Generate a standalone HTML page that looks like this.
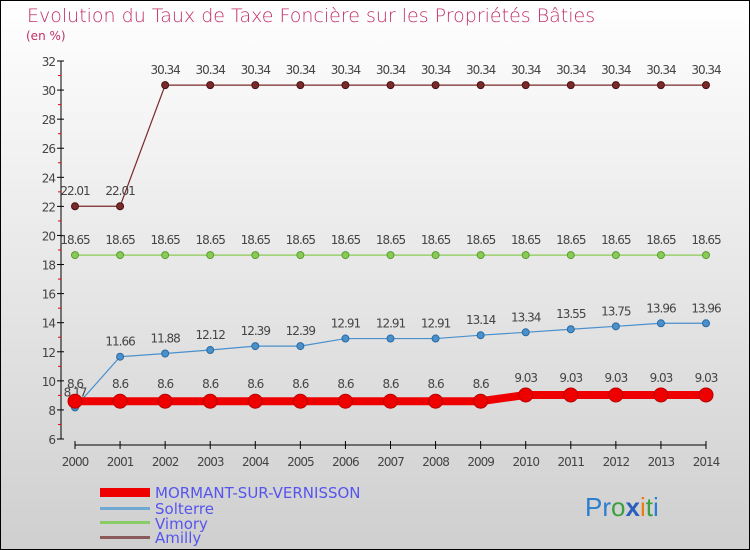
<!DOCTYPE html>
<html><head><meta charset="utf-8"><style>
body{margin:0}
#c{width:750px;height:550px;position:relative;overflow:hidden;font-family:"DejaVu Sans","Liberation Sans",sans-serif}
</style></head><body>
<div id="c">
<svg id="s" width="750" height="550" xmlns="http://www.w3.org/2000/svg">
<defs><linearGradient id="bg" x1="0" y1="0" x2="0" y2="1"><stop offset="0" stop-color="#ffffff"/><stop offset="1" stop-color="#cfcfcf"/></linearGradient></defs>
<rect x="0.5" y="0.5" width="749" height="549" fill="url(#bg)" stroke="#000"/>
<text x="27" y="22" font-size="19" fill="#c0306a" style="font-weight:200">Evolution du Taux de Taxe Foncière sur les Propriétés Bâties</text>
<text x="26" y="40" font-size="12" fill="#c0306a">(en %)</text>
<g id="axes"></g><g id="series"></g>
<g>
<rect x="100" y="488" width="50" height="9" fill="#ee0000"/>
<text x="155" y="498" font-size="15" fill="#5555ee">MORMANT-SUR-VERNISSON</text>
<rect x="100" y="507" width="50" height="3" fill="#6fa8d0"/>
<text x="155" y="514" font-size="15" fill="#5555ee">Solterre</text>
<rect x="100" y="521" width="50" height="3" fill="#88cc66"/>
<text x="155" y="529" font-size="15" fill="#5555ee">Vimory</text>
<rect x="100" y="536" width="50" height="3" fill="#8b5a5a"/>
<text x="155" y="543" font-size="15" fill="#5555ee">Amilly</text>
</g>
<text x="585" y="516" font-size="26" font-family="Liberation Sans,sans-serif"><tspan fill="#2a7fcf">Pr</tspan><tspan fill="#3aa040">o</tspan><tspan fill="#2a5fbf" font-weight="bold">x</tspan><tspan fill="#f07a10">i</tspan><tspan fill="#3aa040">t</tspan><tspan fill="#2a7fcf">i</tspan></text>
</svg></div>
<script>
const years=[2000,2001,2002,2003,2004,2005,2006,2007,2008,2009,2010,2011,2012,2013,2014];
const mormant=[8.6,8.6,8.6,8.6,8.6,8.6,8.6,8.6,8.6,8.6,9.03,9.03,9.03,9.03,9.03];
const solterre=[8.17,11.66,11.88,12.12,12.39,12.39,12.91,12.91,12.91,13.14,13.34,13.55,13.75,13.96,13.96];
const vimory=[18.65,18.65,18.65,18.65,18.65,18.65,18.65,18.65,18.65,18.65,18.65,18.65,18.65,18.65,18.65];
const amilly=[22.01,22.01,30.34,30.34,30.34,30.34,30.34,30.34,30.34,30.34,30.34,30.34,30.34,30.34,30.34];
const yTicks=[6,8,10,12,14,16,18,20,22,24,26,28,30,32];
const NS="http://www.w3.org/2000/svg";
const X=i=>75+i*(706-75)/14;
const Y=v=>439-(v-6)*(439-61)/26;
function mk(t,a,p){const e=document.createElementNS(NS,t);for(const k in a)e.setAttribute(k,a[k]);p.appendChild(e);return e;}
const ax=document.getElementById('axes'),se=document.getElementById('series');
let l=mk('line',{x1:61,y1:61,x2:61,y2:439,stroke:'#000'},ax);


l=mk('line',{x1:X(0),y1:445,x2:X(14),y2:445,stroke:'#000'},ax);


yTicks.forEach(v=>{
 mk('line',{x1:57,y1:Y(v),x2:64,y2:Y(v),stroke:'#000'},ax);
 if(v<32)mk('line',{x1:58,y1:Y(v+1),x2:61,y2:Y(v+1),stroke:'#e00'},ax);
 const t=mk('text',{x:55,y:Y(v)+5,'font-size':12,fill:'#444','text-anchor':'end','letter-spacing':'-1'},ax);
 t.textContent=v;
 
 
});
years.forEach((y,i)=>{
 mk('line',{x1:X(i),y1:441,x2:X(i),y2:449,stroke:'#000'},ax);
 const t=mk('text',{x:X(i),y:466,'font-size':12,fill:'#444','text-anchor':'middle','letter-spacing':'-1'},ax);
 t.textContent=y;
 
 
});
function series(d,name,col,lw,r,dark,lab){
 const g=mk('g',{},se);
 
 
 const p=mk('polyline',{points:d.map((v,i)=>X(i)+','+Y(v)).join(' '),fill:'none',stroke:col,'stroke-width':lw},g);
 
 
 d.forEach((v,i)=>{
  const c=mk('circle',{cx:X(i),cy:Y(v),r:r,fill:col,stroke:dark,'stroke-width':1},g);
  
  
  const t=mk('text',{x:X(i),y:Y(v)-lab,'font-size':12,fill:'#444','text-anchor':'middle','letter-spacing':'-1'},g);
  t.textContent=v;
  
  
 });
}
series(amilly,'amilly','#7a2a2a',1.2,3.5,'#4a1010',11);
series(vimory,'vimory','#88cc55',1.2,3.5,'#5a9a30',11);
series(solterre,'solterre','#4a90cc',1.2,3.5,'#2a6aa0',11);
series(mormant,'mormant','#ee0000',8,7,'#bb0000',13);
</script>
</body></html>
